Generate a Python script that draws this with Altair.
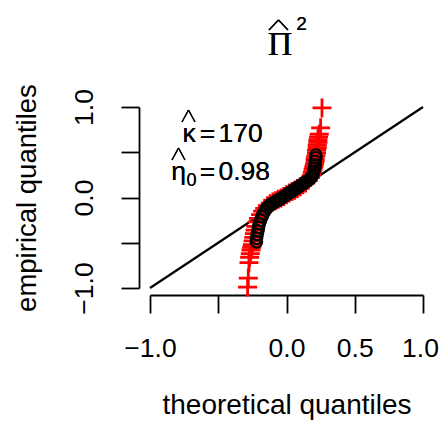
import altair as alt
import pandas as pd

# Red "+" sample (theoretical, empirical quantiles)
red_x = [-0.285, -0.28, -0.275, -0.27, -0.265, -0.26, -0.255, -0.25, -0.245, -0.24,
         -0.235, -0.23, -0.225, -0.215, -0.205, -0.19, -0.175, -0.16, -0.14, -0.12,
         -0.10, -0.08, -0.06, -0.04, -0.02, 0.0, 0.02, 0.04, 0.06, 0.08,
         0.10, 0.12, 0.14, 0.16, 0.175, 0.185, 0.19, 0.195, 0.20, 0.205,
         0.21, 0.21, 0.215, 0.22, 0.22, 0.225, 0.225, 0.23, 0.23, 0.235,
         0.24, 0.25, 0.26]
red_y = [-0.99, -0.89, -0.72, -0.66, -0.62, -0.58, -0.55, -0.52, -0.48, -0.44,
         -0.40, -0.36, -0.32, -0.27, -0.23, -0.19, -0.15, -0.12, -0.09, -0.07,
         -0.05, -0.035, -0.02, -0.005, 0.01, 0.03, 0.05, 0.065, 0.08, 0.10,
         0.12, 0.14, 0.16, 0.19, 0.22, 0.25, 0.28, 0.31, 0.34, 0.37,
         0.40, 0.43, 0.46, 0.49, 0.52, 0.55, 0.58, 0.61, 0.64, 0.67,
         0.70, 0.77, 0.99]

# Black "o" sample
blk_x = [-0.22, -0.22, -0.215, -0.21, -0.205, -0.20, -0.19, -0.18, -0.17, -0.155,
         -0.14, -0.125, -0.11, -0.095, -0.08, -0.065, -0.05, -0.035, -0.02, -0.005,
         0.01, 0.025, 0.04, 0.055, 0.07, 0.085, 0.10, 0.115, 0.13, 0.145,
         0.16, 0.175, 0.185, 0.195, 0.20, 0.205, 0.21, 0.21, 0.215, 0.215]
blk_y = [-0.49, -0.45, -0.41, -0.37, -0.33, -0.29, -0.25, -0.21, -0.18, -0.14,
         -0.11, -0.09, -0.07, -0.06, -0.045, -0.03, -0.02, -0.005, 0.01, 0.025,
         0.04, 0.055, 0.07, 0.085, 0.10, 0.115, 0.13, 0.145, 0.16, 0.175,
         0.19, 0.21, 0.23, 0.26, 0.29, 0.32, 0.36, 0.40, 0.44, 0.47]

ref_x = [-1.0, 1.0]
ref_y = [-1.0, 1.0]
tick_vals = [-1.0, -0.5, 0.0, 0.5, 1.0]

red_df = pd.DataFrame({"x": red_x, "y": red_y})
blk_df = pd.DataFrame({"x": blk_x, "y": blk_y})
ref_df = pd.DataFrame({"x": ref_x, "y": ref_y})

W, H = 273, 181
FONT = "Liberation Sans"

lab_expr_x = "datum.value == -0.5 ? '' : (datum.value < 0 ? '\u2212' : '') + format(abs(datum.value), '.1f')"
lab_expr_y = "(datum.value == -0.5 || datum.value == 0.5) ? '' : (datum.value < 0 ? '\u2212' : '') + format(abs(datum.value), '.1f')"

xenc = alt.X("x:Q", scale=alt.Scale(domain=[-1, 1], nice=False, zero=False),
             axis=alt.Axis(values=tick_vals, labelExpr=lab_expr_x, title="theoretical quantiles",
                           offset=7, grid=False, tickSize=18, tickWidth=1.8, domainWidth=1.8,
                           domainColor="black", tickColor="black", labelColor="black",
                           labelFont=FONT, labelFontSize=26.5, labelPadding=22, labelBaseline="top",
                           labelOverlap=False, labelFlush=False,
                           labelOffset={"condition": {"test": "datum.value == 1", "value": -3}, "value": 0},
                           titleFont=FONT, titleFontSize=28, titleFontWeight="normal",
                           titleColor="black", titleBaseline="alphabetic", titleY=118))
yenc = alt.Y("y:Q", scale=alt.Scale(domain=[-1, 1], nice=False, zero=False),
             axis=alt.Axis(values=tick_vals, labelExpr=lab_expr_y, title="empirical quantiles",
                           offset=11, grid=False, tickSize=18, tickWidth=1.8, domainWidth=1.8,
                           domainColor="black", tickColor="black", labelColor="black",
                           labelFont=FONT, labelFontSize=26.5, labelPadding=23, labelAngle=270,
                           labelAlign="center", labelBaseline="bottom",
                           labelOverlap=False, labelFlush=False,
                           titleFont=FONT, titleFontSize=27.5, titleFontWeight="normal",
                           titleColor="black", titleAngle=270, titleAlign="center",
                           titleBaseline="alphabetic", titleX=-104, titleY=90.5))

ref = alt.Chart(ref_df).mark_line(color="black", strokeWidth=2.2).encode(x=xenc, y=yenc)

red = alt.Chart(red_df).mark_point(shape="M-1,0H1M0,-1V1", filled=False, color="#FF0000",
                                   size=361, strokeWidth=2.8, opacity=1).encode(x="x:Q", y="y:Q")
blk = alt.Chart(blk_df).mark_point(shape="circle", filled=False, color="black",
                                   size=130, strokeWidth=2.2, opacity=1).encode(x="x:Q", y="y:Q")


def txt(s, x, y, size=26.5, font=FONT, align="left"):
    return alt.Chart(ref_df).mark_text(text=s, font=font, fontSize=size, align=align,
                                       baseline="alphabetic", color="black").encode(
        x=alt.value(x), y=alt.value(y))


def hat(x0, x1, top, bottom, sw=1.3):
    cx = (x0 + x1) / 2
    a = alt.Chart(ref_df).mark_rule(color="black", strokeWidth=sw).encode(
        x=alt.value(x0), x2=alt.value(cx), y=alt.value(bottom), y2=alt.value(top))
    b = alt.Chart(ref_df).mark_rule(color="black", strokeWidth=sw).encode(
        x=alt.value(cx), x2=alt.value(x1), y=alt.value(top), y2=alt.value(bottom))
    return [a, b]


texts = [
    txt("\u03a0", 130, -52, size=34, font="Liberation Serif", align="center"),
    txt("2", 151.5, -77, size=19, align="center"),
    txt("\u03ba", 39, 35, align="center"),
    txt("=", 57.5, 35, align="center"),
    txt("170", 68.5, 35),
    txt("\u03b7", 28.5, 73, align="center"),
    txt("0", 41.5, 79, size=18, align="center"),
    txt("=", 57.5, 73, align="center"),
    txt("0.98", 68.5, 73),
]
hats = hat(119, 138, -87, -77) + hat(32, 45, 3, 15) + hat(22, 35, 41, 53)

chart = alt.layer(ref, red, blk, *texts, *hats).properties(
    width=W, height=H,
    autosize=alt.AutoSizeParams(type="none"),
    padding={"left": 142, "top": 99, "right": 16, "bottom": 134},
).configure_view(stroke=None)

chart.save("out.html", embed_options={"renderer": "svg", "actions": False})
